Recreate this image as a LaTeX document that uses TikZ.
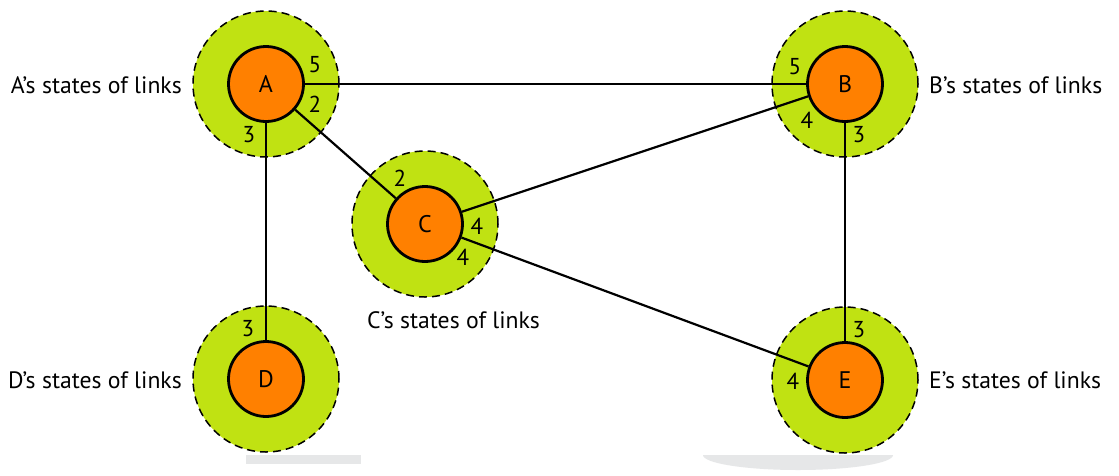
\documentclass[tikz,border=0pt]{standalone}
\usepackage{fontspec}
\setmainfont{PT Sans}
\definecolor{ringgreen}{RGB}{192,226,18}
\definecolor{nodeorange}{RGB}{255,128,0}
\definecolor{ghost}{RGB}{230,231,232}
\begin{document}
\begin{tikzpicture}[x=1pt,y=-1pt,
  ring/.style={circle,fill=ringgreen,draw=black,line width=1.5pt,dash pattern=on 8pt off 5pt,minimum size=146pt,inner sep=0pt},
  router/.style={circle,fill=nodeorange,draw=black,line width=2.8pt,minimum size=75pt,inner sep=0pt,font=\fontsize{24}{26}\selectfont},
  link/.style={line width=2.2pt},
  num/.style={font=\fontsize{23}{25}\selectfont,inner sep=0pt},
  lbl/.style={font=\fontsize{23.7}{26}\selectfont,inner sep=0pt}]
\useasboundingbox (0,0) rectangle (1119,475);
\fill[white] (0,0) rectangle (1119,475);
% faint grey marks at the bottom
\fill[ghost] (246,455) rectangle (361,464);
\fill[ghost] (703,455) arc[start angle=180,end angle=360,x radius=95,y radius=-15] -- cycle;
% rings
\node[ring] (rA) at (266,84) {};
\node[ring] (rB) at (845,84) {};
\node[ring] (rC) at (425,224) {};
\node[ring] (rD) at (266,379) {};
\node[ring] (rE) at (845,380) {};
% routers
\node[router] (A) at (266,84) {A};
\node[router] (B) at (845,84) {B};
\node[router] (C) at (425,224) {C};
\node[router] (D) at (266,379) {D};
\node[router] (E) at (845,380) {E};
% links
\draw[link] (A) -- (B);
\draw[link] (A) -- (C);
\draw[link] (A) -- (D);
\draw[link] (C) -- (B);
\draw[link] (B) -- (E);
\draw[link] (C) -- (E);
% port numbers
\node[num] (a5) at (315,65) {5};
\node[num] (a2) at (315,104) {2};
\node[num] (a3) at (249,135) {3};
\node[num] (c2) at (400,178) {2};
\node[num] (c4a) at (477,226) {4};
\node[num] (c4b) at (463,257) {4};
\node[num] (b5) at (795,67) {5};
\node[num] (b4) at (807,120) {4};
\node[num] (b3) at (859,135) {3};
\node[num] (e3) at (859,330) {3};
\node[num] (e4) at (793,381) {4};
\node[num] (d3) at (248,329) {3};
% captions
\node[lbl,anchor=east] (la) at (182,85) {A’s states of links};
\node[lbl,anchor=west] (lb) at (929,85) {B’s states of links};
\node[lbl,anchor=west] (lc) at (367,320) {C’s states of links};
\node[lbl,anchor=east] (ld) at (182,380) {D’s states of links};
\node[lbl,anchor=west] (le) at (929,380) {E’s states of links};
\end{tikzpicture}
\end{document}
